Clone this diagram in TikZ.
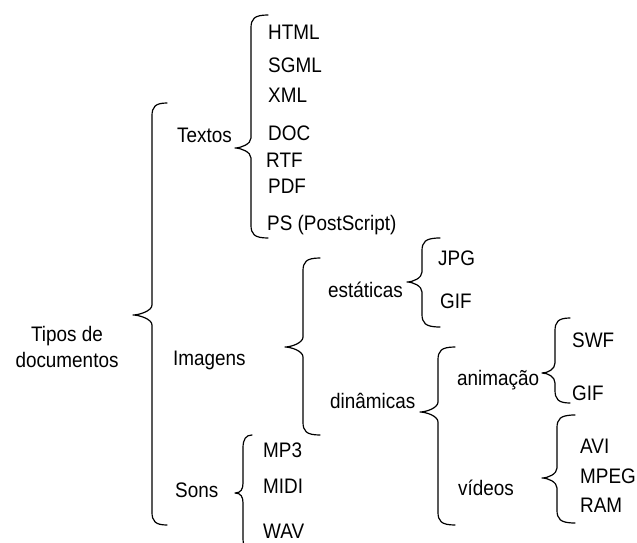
\documentclass[tikz,border=0pt]{standalone}
\usepackage{fontspec}
\setmainfont[FakeStretch=0.9]{Liberation Sans}
% brace from top end (#4,#5) to bottom end (#4,#6), spine at x=#3, tip at (#1,#2)
\newcommand\drawbrace[6]{%
  \draw[bracestroke]
    (#4,#5) .. controls ({#3+3},#5) and (#3,{#5+4}) .. (#3,{#5+13})
    -- (#3,{#2-10})
    .. controls (#3,{#2-4}) and ({#1+6},#2) .. (#1,#2)
    .. controls ({#1+6},#2) and (#3,{#2+4}) .. (#3,{#2+10})
    -- (#3,{#6-13})
    .. controls (#3,{#6-4}) and ({#3+3},#6) .. (#4,#6);
}
\begin{document}
\begin{tikzpicture}[x=1pt,y=-1pt,
  bracestroke/.style={draw=black,line width=1.2pt,line cap=round,line join=round},
  lbl/.style={anchor=base west,inner sep=0pt,font=\fontsize{21}{26}\selectfont}]
\fill[white] (0,0) rectangle (637,543);
\useasboundingbox (0,0) rectangle (637,543);
\clip (0,0) rectangle (637,543);

% root
\node[align=center,inner sep=0pt,font=\fontsize{21}{26}\selectfont,anchor=base] (root) at (67,367) {Tipos de\\documentos};
\drawbrace{133}{315}{152}{167}{103}{525}

% text formats
\node[lbl] (textos) at (177,142) {Textos};
\drawbrace{235}{148}{251}{268}{15}{238}
\node[lbl] (html) at (268,40) {HTML};
\node[lbl] (sgml) at (268,72) {SGML};
\node[lbl] (xml) at (268,102) {XML};
\node[lbl] (doc) at (268,140) {DOC};
\node[lbl] (rtf) at (266,167) {RTF};
\node[lbl] (pdf) at (268,193) {PDF};
\node[lbl] (ps) at (267,230) {PS (PostScript)};

% images
\node[lbl] (imagens) at (173,365) {Imagens};
\drawbrace{285}{347}{303}{320}{258}{435}

\node[lbl] (estaticas) at (328,297) {estáticas};
\drawbrace{407}{282}{422}{440}{238}{327}
\node[lbl] (jpg) at (438,265) {JPG};
\node[lbl] (gif1) at (440,308) {GIF};

\node[lbl] (dinamicas) at (330,408) {dinâmicas};
\drawbrace{420}{412}{438}{455}{347}{525}

\node[lbl] (animacao) at (457,385) {animação};
\drawbrace{542}{373}{555}{570}{318}{403}
\node[lbl] (swf) at (572,347) {SWF};
\node[lbl] (gif2) at (572,400) {GIF};

\node[lbl] (videos) at (458,495) {vídeos};
\drawbrace{542}{478}{557}{575}{415}{523}
\node[lbl] (avi) at (580,453) {AVI};
\node[lbl] (mpeg) at (580,483) {MPEG};
\node[lbl] (ram) at (580,512) {RAM};

% sounds
\node[lbl] (sons) at (175,497) {Sons};
\drawbrace{235}{493}{243}{252}{435}{551}
\node[lbl] (mp3) at (263,457) {MP3};
\node[lbl] (midi) at (263,493) {MIDI};
\node[lbl] (wav) at (263,538) {WAV};
\end{tikzpicture}
\end{document}
